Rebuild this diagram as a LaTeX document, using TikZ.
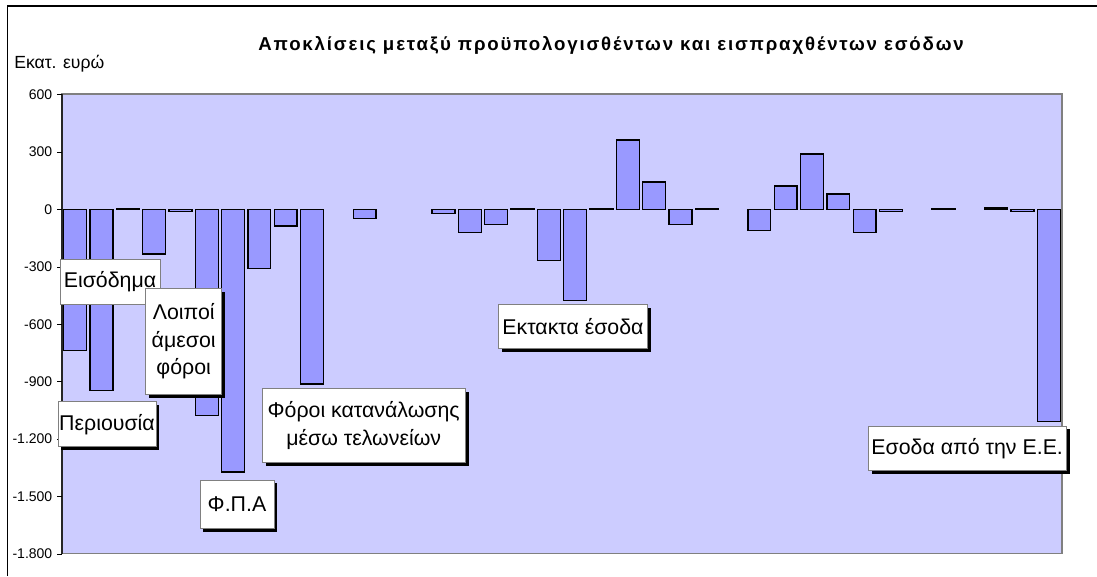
\documentclass[tikz,border=0pt]{standalone}
\usepackage{fontspec}
\setmainfont{Liberation Sans}
\usetikzlibrary{shadows}

\definecolor{plotbg}{HTML}{CCCCFF}
\definecolor{barfill}{HTML}{9999FF}
\definecolor{framegray}{HTML}{808080}

\begin{document}
\begin{tikzpicture}[x = 0.75pt, y = -0.75pt,
    bar/.style = {draw = black, line width = 1pt, fill = barfill},
    tick label/.style = {anchor = east, inner sep = 0pt, font = \fontsize{10.5}{12}\selectfont},
    label box/.style = {draw = framegray, line width = 0.5pt, fill = white, align = center,
                        inner sep = 0pt, font = \fontsize{16}{20.3}\selectfont},
    shadowed/.style = {drop shadow = {shadow xshift = 2.6pt, shadow yshift = -2.6pt,
                        fill = black, opacity = 1}}]
  \useasboundingbox (0,0) rectangle (1097,576);

  % frame and titles
  \draw[line width = 1.1pt] (7.5,576) -- (7.5,6) -- (1097,6);
  \node[anchor = base, font = \bfseries\fontsize{14}{16}\selectfont\addfontfeature{LetterSpace = 9.8}] at (611,50) (title)
        {Αποκλίσεις μεταξύ προϋπολογισθέντων και εισπραχθέντων εσόδων};
  \node[anchor = base west, inner sep = 0pt, font = \fontsize{13.2}{15}\selectfont] at (14,68.3) (unit)
        {Εκατ. ευρώ};

  % plot area
  \draw[fill = plotbg, draw = framegray, line width = 1.2pt] (62,94) rectangle (1062,553.5);
  \draw[line width = 1.2pt, black!85] (62,94) -- (62,554);

  \begin{scope}[shift = {(62,209.5)}, x = 19.737pt, y = 0.14352pt]
    % axis ticks
    \draw (-0.19, 600) -- (0, 600);   \node[tick label] at (-0.36, 600) (t600) {600};
    \draw (-0.19, 300) -- (0, 300);   \node[tick label] at (-0.36, 300) (t300) {300};
    \draw (-0.19, 0) -- (0, 0);       \node[tick label] at (-0.36, 0) (t0) {0};
    \draw (-0.19,-300) -- (0,-300);   \node[tick label] at (-0.36,-300) (tm300) {-300};
    \draw (-0.19,-600) -- (0,-600);   \node[tick label] at (-0.36,-600) (tm600) {-600};
    \draw (-0.19,-900) -- (0,-900);   \node[tick label] at (-0.36,-900) (tm900) {-900};
    \draw (-0.19,-1200) -- (0,-1200); \node[tick label] at (-0.36,-1200) (tm1200) {-1.200};
    \draw (-0.19,-1500) -- (0,-1500); \node[tick label] at (-0.36,-1500) (tm1500) {-1.500};
    \draw (-0.19,-1800) -- (0,-1800); \node[tick label] at (-0.36,-1800) (tm1800) {-1.800};

    % bars
    \draw[bar] (0.065,0) rectangle (0.935,-738);
    \draw[bar] (1.065,0) rectangle (1.935,-947);
    \draw[bar] (2.065,0) rectangle (2.935,5);
    \draw[bar] (3.065,0) rectangle (3.935,-233);
    \draw[bar] (4.065,0) rectangle (4.935,-10);
    \draw[bar] (5.065,0) rectangle (5.935,-1078);
    \draw[bar] (6.065,0) rectangle (6.935,-1372);
    \draw[bar] (7.065,0) rectangle (7.935,-309);
    \draw[bar] (8.065,0) rectangle (8.935,-86);
    \draw[bar] (9.065,0) rectangle (9.935,-912);
    \draw[bar] (11.065,0) rectangle (11.935,-46);
    \draw[bar] (14.065,0) rectangle (14.935,-20);
    \draw[bar] (15.065,0) rectangle (15.935,-119);
    \draw[bar] (16.065,0) rectangle (16.935,-77);
    \draw[bar] (17.065,0) rectangle (17.935,5);
    \draw[bar] (18.065,0) rectangle (18.935,-266);
    \draw[bar] (19.065,0) rectangle (19.935,-475);
    \draw[bar] (20.065,0) rectangle (20.935,5);
    \draw[bar] (21.065,0) rectangle (21.935,363);
    \draw[bar] (22.065,0) rectangle (22.935,144);
    \draw[bar] (23.065,0) rectangle (23.935,-79);
    \draw[bar] (24.065,0) rectangle (24.935,5);
    \draw[bar] (26.065,0) rectangle (26.935,-111);
    \draw[bar] (27.065,0) rectangle (27.935,123);
    \draw[bar] (28.065,0) rectangle (28.935,290);
    \draw[bar] (29.065,0) rectangle (29.935,81);
    \draw[bar] (30.065,0) rectangle (30.935,-121);
    \draw[bar] (31.065,0) rectangle (31.935,-10);
    \draw[bar] (33.065,0) rectangle (33.935,5);
    \draw[bar] (35.065,0) rectangle (35.935,8);
    \draw[bar] (36.065,0) rectangle (36.935,-10);
    \draw[bar] (37.065,0) rectangle (37.935,-1109);
  \end{scope}

  % labels
  \node[label box, minimum width = 75pt, minimum height = 33.75pt] at (110,281.4) (income) {Εισόδημα};
  \node[label box, shadowed, minimum width = 57pt, minimum height = 79.3pt] at (183.7,341.2) (otherdirect)
        {Λοιποί\\άμεσοι\\φόροι};
  \node[label box, shadowed, minimum width = 73.5pt, minimum height = 33.75pt] at (107,424.2) (property) {Περιουσία};
  \node[label box, shadowed, minimum width = 55.5pt, minimum height = 36.5pt] at (237,504.3) (vat) {Φ.Π.Α};
  \node[label box, shadowed, minimum width = 152pt, minimum height = 55.8pt] at (363.7,425.5) (customs)
        {Φόροι κατανάλωσης\\μέσω τελωνείων};
  \node[label box, shadowed, minimum width = 112pt, minimum height = 33pt] at (573,326.3) (extra) {Εκτακτα έσοδα};
  \node[label box, shadowed, minimum width = 148.3pt, minimum height = 33.5pt] at (967.2,448.3) (eu)
        {Εσοδα από την Ε.Ε.};
\end{tikzpicture}
\end{document}
